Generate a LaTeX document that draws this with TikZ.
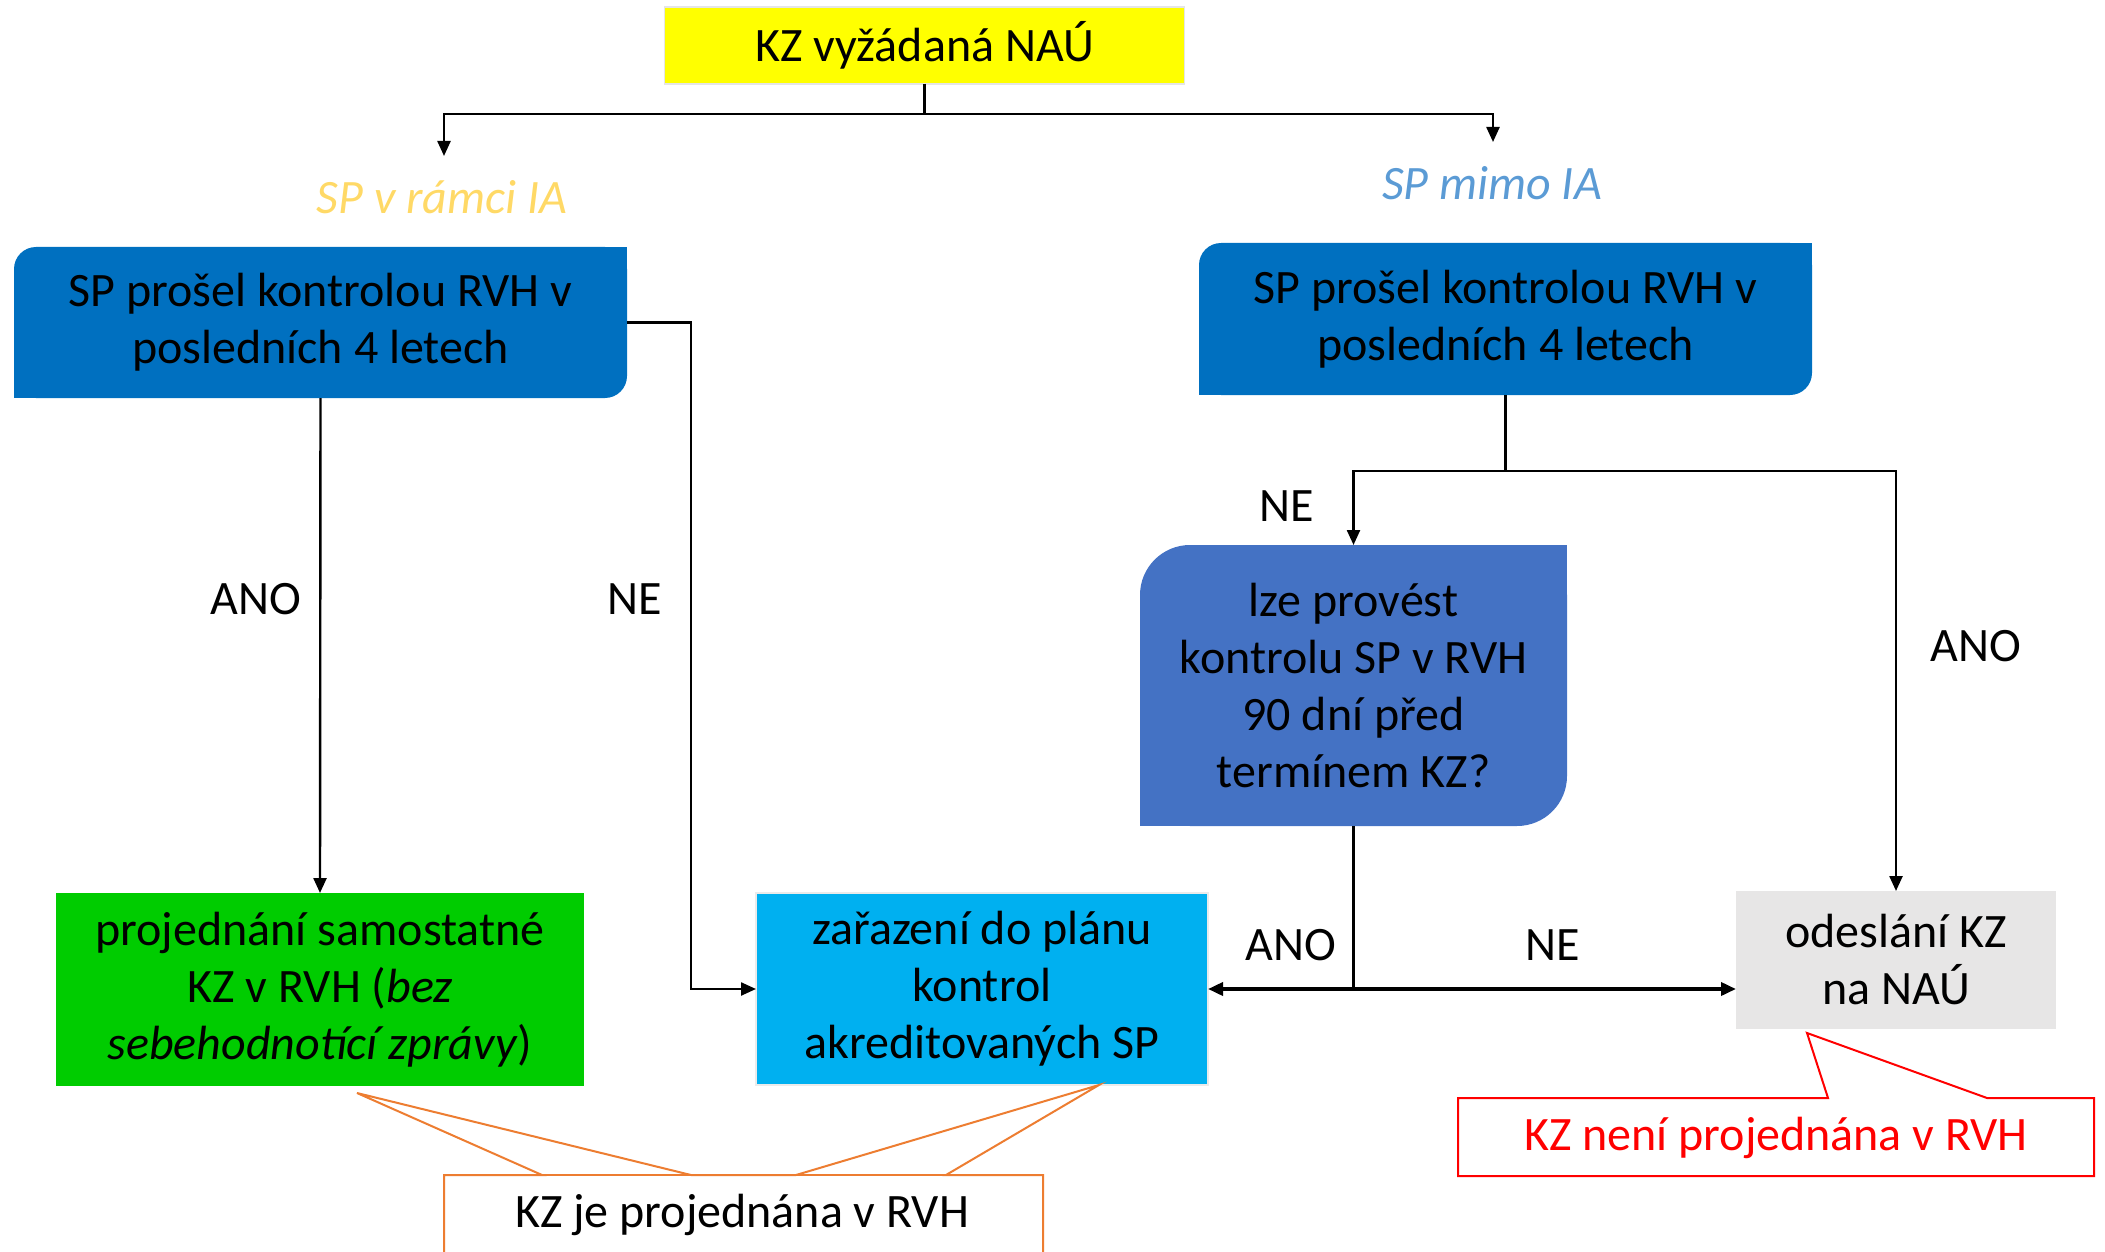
\documentclass[tikz,border=0pt]{standalone}
\usepackage{fontspec}
\setmainfont{Carlito}
\usetikzlibrary{arrows.meta,backgrounds}
\definecolor{yel}{HTML}{FFFF00}
\definecolor{spin}{HTML}{FFD966}
\definecolor{spout}{HTML}{5B9BD5}
\definecolor{bluebox}{HTML}{0070C0}
\definecolor{decbox}{HTML}{4472C4}
\definecolor{greenbox}{HTML}{00CC00}
\definecolor{cyanbox}{HTML}{00B0F0}
\definecolor{greybox}{HTML}{E7E6E6}
\definecolor{orangec}{HTML}{ED7D31}
\definecolor{redc}{HTML}{FF0000}
\newcommand\diagfill[3]{%
  \fill[#3, rounded corners=#2pt] (#1.south west) rectangle (#1.north east);
  \fill[#3] (#1.north east) rectangle ++(-#2,#2);
  \fill[#3] (#1.south west) rectangle ++(#2,-#2);
}
\tikzset{
  boxnode/.style={shape=rectangle, inner sep=0pt, outer sep=0pt, align=center},
  arr/.style={-{Triangle[length=15pt,width=13pt]}, line width=2.4pt},
  thickarr/.style={-{Triangle[length=15pt,width=13pt]}, line width=3.6pt},
  lbl/.style={inner sep=0pt, outer sep=0pt},
}
\begin{document}
\begin{tikzpicture}[x=1pt,y=-1pt,font=\fontsize{48}{57}\selectfont]
\useasboundingbox (0,0) rectangle (2105,1252);

% nodes
\node[boxnode, minimum width=520pt, minimum height=77pt, fill=yel, draw=black!10, line width=1.5pt] (Y) at (924.5,45.5) {KZ vyžádaná NAÚ};
\node[lbl, text=spin, font=\fontsize{48}{57}\selectfont\itshape] (tIA) at (442,197) {SP v rámci IA};
\node[lbl, text=spout, font=\fontsize{48}{57}\selectfont\itshape] (tMimo) at (1492,183) {SP mimo IA};

\node[boxnode, minimum width=613pt, minimum height=151pt] (L) at (320.5,322.5) {SP prošel kontrolou RVH v\\posledních 4 letech};
\node[boxnode, minimum width=613pt, minimum height=152pt] (R) at (1505.5,319) {SP prošel kontrolou RVH v\\posledních 4 letech};
\node[boxnode, minimum width=427pt, minimum height=281pt] (D) at (1353.5,685.5) {lze provést\\kontrolu SP v RVH\\90 dní před\\termínem KZ?};
\node[boxnode, minimum width=528pt, minimum height=193pt, fill=greenbox] (G) at (320,989.5) {projednání samostatné\\KZ v RVH (\textit{bez}\\\textit{sebehodnotící zprávy})};
\node[boxnode, minimum width=452pt, minimum height=192pt, fill=cyanbox, draw=black!8, line width=1.5pt] (Z) at (982,989) {zařazení do plánu\\kontrol\\akreditovaných SP};
\node[boxnode, minimum width=320pt, minimum height=138pt, fill=greybox] (O) at (1896,960) {odeslání KZ\\na NAÚ};

\begin{scope}[on background layer]
  \diagfill{L}{22}{bluebox}
  \diagfill{R}{22}{bluebox}
  \diagfill{D}{50}{decbox}
\end{scope}

% coordinates
\coordinate (jl) at (444,114);
\coordinate (tipL) at (444,156);
\coordinate (jr) at (1493,114);
\coordinate (tipR) at (1493,142);
\coordinate (ne1) at (691,322.5);
\coordinate (rj) at (1505.5,471);
\coordinate (dj) at (1353.5,989);

% connectors
\draw[arr] (Y.south) |- (jl) -- (tipL);
\draw[arr] (Y.south) |- (jr) -- (tipR);
\draw[arr] (L.south) -- (G.north);
\draw[arr] (L.east) -- (ne1) |- (Z.west);
\draw[line width=3.4pt] (R.south) -- (rj);
\draw[arr] (rj) -| (D.north);
\draw[arr] (rj) -| (O.north);
\draw[line width=2.4pt] (D.south) -- (dj);
\draw[thickarr] (dj) -- (Z.east |- dj);
\draw[thickarr] (dj) -- (O.west |- dj);

% labels
\node[lbl] (a1) at (256,599) {ANO};
\node[lbl] (n1) at (635,599) {NE};
\node[lbl] (n2) at (1287,506) {NE};
\node[lbl] (a2) at (1976,646) {ANO};
\node[lbl] (a3) at (1291,945) {ANO};
\node[lbl] (n3) at (1553,945) {NE};

% callouts
\draw[orangec, line width=2pt, fill=white] (444,1262) -- (444,1175) -- (542,1175) -- (357,1093) -- (691,1175) -- (796,1175) -- (1099,1085) -- (946,1175) -- (1043,1175) -- (1043,1262);
\draw[orangec, line width=2pt] (444,1175) -- (1043,1175);
\node[lbl] (cj) at (742,1215) {KZ je projednána v RVH};
\draw[redc, line width=2pt, fill=white] (1458,1176) -- (1458,1098) -- (1828,1098) -- (1807,1033) -- (1987,1098) -- (2094,1098) -- (2094,1176) -- cycle;
\node[lbl, text=redc] (cn) at (1776,1138) {KZ není projednána v RVH};
\end{tikzpicture}
\end{document}
